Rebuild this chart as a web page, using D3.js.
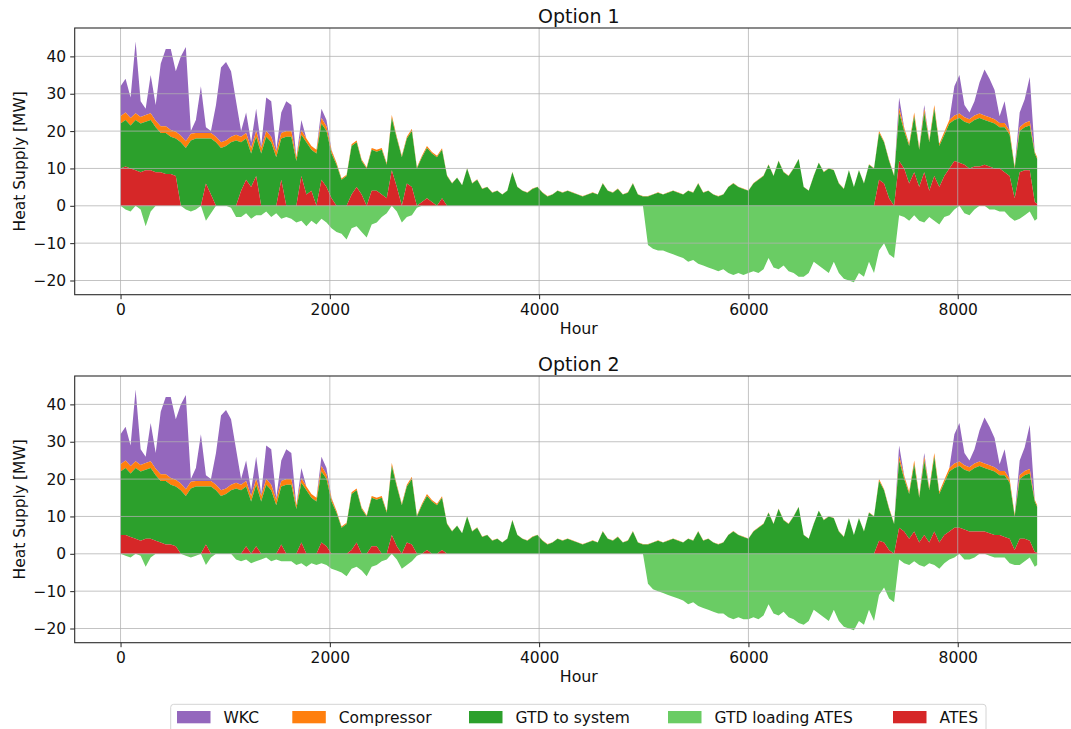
<!DOCTYPE html>
<html>
<head>
<meta charset="utf-8">
<script src="https://cdn.jsdelivr.net/npm/d3@7"></script>
<style>
  html, body { margin: 0; padding: 0; background: #fff; }
  svg { display: block; font-family: "DejaVu Sans", sans-serif; }
</style>
</head>
<body>
<svg id="chart" width="1071" height="729"></svg>
<script>
// ---------------- DATA (48-hour samples) ----------------
const hours = d3.range(0, 8760, 48).concat([8759]);

const seriesNames = ["WKC", "Compressor", "GTD to system", "GTD loading ATES", "ATES"];
const panelTitles = ["Option 1", "Option 2"];
const yTicks = [-20, -10, 0, 10, 20, 30, 40];
const xTicks = [0, 2000, 4000, 6000, 8000];

// shared by both options
const wkc = [
  8, 9, 5.5, 19.2, 4.2, 1.7, 10.2, 4.2, 16.7, 20.7, 21.7, 16.2,
  21.2, 25.2, 0.7, 3.5, 12.5, 1.5, 0.5, 8.5, 20, 21, 17.5, 9,
  1.5, 5.5, 1.5, 6, 0.5, 9, 9.5, 0.5, 5.5, 8, 7, 0,
  2.8, 0, 0, 0, 2.5, 1.8, 0.2, 0, 0,
  0,0,0,0,0,0,0,0,0,0,0,0,0,0,0,0,0,0,0,0,0,0,0,0,0,0,0,0,0,0,0,0,0,0,0,0,0,0,0,0,0,0,0,0,0,0,0,0,0,0,0,0,0,
  0,0,0,0,0,0,0,0,0,0,0,0,0,0,0,0,0,0,0,0,0,0,0,0,0,0,0,0,0,0,0,0,0,0,0,0,0,0,0,0,0,0,0,0,0,0,0,0,0,0,0,0,0,
  0, 0, 0, 0, 2.8, 0.2, 0, 0, 0, 1, 0, 0, 0, 0, 0, 7.8, 10.3, 3.3, 1.8, 3.8, 8.3, 12.3, 10.3, 7.8, 1.8, 5.8, 0, 0, 4, 6.3, 11.8, 0, 0
];

const compressor = [
  2, 2, 2, 1.8, 1.8, 1.8, 1.8, 1.8, 1.8, 1.8, 1.8, 1.8,
  1.8, 1.8, 1.8, 1.5, 1.5, 1.5, 1.5, 1.5, 1.5, 1.5, 1.5, 1.5,
  1.5, 1.5, 1.5, 1.5, 1.5, 1.5, 1.5, 1.5, 1.5, 1.5, 1.5, 1,
  1.2, 1, 1, 1, 1.5, 1.2, 0.8, 0.5, 0.3,
  0.3, 0.5, 0.5, 0.4, 0.3, 0.5, 0.5, 0.5, 0.4, 0.8,
  0.5, 0.4, 0.5, 0.6, 0.3, 0.4, 0.5, 0.4, 0.4, 0.4, 0.2,
  0.1,0.1,0.1,0.1,0.1,0.1,0.1,0.1,0.1,0.1,0.1,0.1,0.1,0.1,0.1,0.1,0.1,
  0.1,0.1,0.1,0.1,0.1,0.1,0.1,0.1,0.1,0.1,0.1,0.1,0.1,0.1,0.1,0.1,0.1,
  0.1,0.1,0.1,0.1,0.1,0.1,0.1,0.1,0.1,0.1,0.1,0.1,0.1,0.1,0.1,0.1,0.1,
  0.1,0.1,0.1,0.1,0.1,0.1,0.1,0.1,0.1,0.1,0.1,0.1,0.1,0.1,0.1,0.1,0.1,
  0.1,0.1,0.1,0.1,0.1,0.1,0.1,0.1,0.1,0.1,0.1,0.1,0.1,0.1,0.1,0.1,0.1,
  0.5, 0.3, 0.3, 0.2, 1.2, 0.8, 0.6, 1, 0.6, 1, 0.6, 1, 0.6, 0.8, 1,
  1.2, 1.2, 1.2, 1.2, 1.2, 1.2, 1.2, 1.2, 1.2, 1.2, 1.2, 1, 0.5, 1, 1.2, 1.2, 0.5, 0.5
];

// Option 1
const gtdSystemOpt1 = [
  12, 12.5, 11.5, 13.5, 13, 13, 13.5, 12, 10.5, 11, 10, 10,
  17, 15.5, 17.5, 18, 18, 12, 15, 17, 15.5, 16, 17, 17.5,
  13, 11, 9, 10.5, 14, 18.5, 17, 13, 11, 18.5, 18.5, 12,
  11, 14, 11, 14, 15, 15, 12, 11, 7,
  8, 13, 12, 9, 10, 11, 10.5, 12, 9, 14,
  13, 13, 12, 15, 10, 12, 13.5, 13, 13, 13, 8,
  6, 7.5, 5.5, 10, 6, 7, 4.5, 5, 3.5, 4, 3, 4, 9, 5, 4, 3.5, 4.5, 5,
  3.5, 2.5, 3, 4, 3.5, 4, 3.5, 3, 2.5, 3, 3.5, 3, 6, 4, 3.5, 4.5, 3, 3.5, 6, 3, 2.5,
  2.5, 3, 3.5, 3, 3.5, 4, 3.5, 3, 4, 3.5, 6, 3.5, 4, 3, 2.5, 3, 5, 6, 5, 4.5, 4,
  6, 7, 8, 11, 8, 12, 9, 8, 10, 12.5, 5, 4, 8, 11.5, 9, 10, 9.5, 6, 4.5, 9.5, 5, 9.5, 6, 11, 10,
  12.5, 11, 10, 8, 13, 10, 10, 15, 10, 16, 13, 18, 11, 11, 12, 11, 12, 11.5, 12, 12.5, 13, 12, 12, 12, 11, 12, 11, 8, 11, 11.5, 12, 13, 12
];
const atesOpt1 = [
  10, 10.5, 10, 9.5, 9, 9.5, 9.5, 9, 9, 8.5, 8.5, 8,
  0, 0, 0, 0, 0, 6, 3, 0, 0, 0, 0, 0,
  4, 7, 5, 8, 0, 0, 0, 0, 7, 0, 0, 0,
  8, 3, 4, 0, 7, 5, 2, 0, 0,
  0, 3, 5, 3, 0, 4, 4, 3, 2, 9.5,
  5, 0, 6, 5, 0, 1, 2, 1, 0, 2, 0,
  0,0,0,0,0,0,0,0,0,0,0,0,0,0,0,0,0,
  0,0,0,0,0,0,0,0,0,0,0,0,0,0,0,0,0,
  0,0,0,0,0,0,0,0,0,0,0,0,0,0,0,0,0,
  0,0,0,0,0,0,0,0,0,0,0,0,0,0,0,0,0,
  0,0,0,0,0,0,0,0,0,0,0,0,0,0,0,0,0,
  7, 6, 2, 0, 12, 10, 6, 9, 5, 9, 4, 8, 5, 8, 10, 12, 11.5, 11, 10, 10.5, 10.5, 11, 10.5, 10, 10, 9, 8, 2, 9, 9.5, 9.5, 1, 0.5
];
const gtdLoadingOpt1 = [
  0, -1, -1.5, 0, -1, -5.5, -1.5, 0, 0, 0, 0, 0,
  0, -1, -1.5, -1, 0, -4, -2, 0, 0, 0, -0.5, -3,
  -3, -2, -3.5, -2.5, -2.5, -1.5, -3, -2, -3.5, -3, -3.5, -4.5,
  -4, -5.5, -4, -5, -3.5, -4.5, -6, -7, -7.5,
  -9, -6, -5.5, -7, -8.5, -5, -4.5, -3, -2, 0,
  -1.5, -4.5, -3, -2.5, -0.5, 0, 0, 0, 0, 0, 0,
  0,0,0,0,0,0,0,0,0,0,0,0,0,0,0,0,0,0,0,0,0,0,0,0,0,0,0,0,0,0,0,0,0,0,0,0,0,0,0,
  -10.5, -11.5, -12, -12, -12.5, -13, -13.5, -14, -15, -14.5, -15.5, -16, -16.5, -17, -17.5, -17, -18, -18.5, -18, -18.5, -18,
  -17.5, -18, -17, -14, -16.5, -17, -16, -17.5, -18, -19, -19, -18, -15, -16, -17, -18, -15, -18, -19.5, -20, -20.5, -18, -19, -15, -18,
  -12, -10, -13, -14,
  -2.5, -3, -4, -2.5, -4, -4.5, -3, -4, -5, -3, -2.5, -1, 0, -2, -2.5, -1, 0, 0, -1, -1, -1.5, -1.5, -3, -4, -3.5, -2.5, -1.5, -4, -3.5
];

// Option 2
const gtdSystemOpt2 = [
  17, 18, 17, 19, 18.5, 18.5, 19, 17.5, 16.5, 17, 16, 16,
  17, 15.5, 17.5, 18, 18, 15.5, 18, 17, 15.5, 16, 17, 17.5,
  17, 16, 14, 16.5, 14, 18.5, 17, 13, 15.5, 18.5, 18.5, 12,
  16, 17, 15, 14, 19, 18, 14, 11, 7,
  8, 15, 14, 12, 10, 13, 12.5, 15, 11, 18.5,
  16, 13, 15, 17.5, 10, 13, 14.5, 14, 13, 14, 8,
  6, 7.5, 5.5, 10, 6, 7, 4.5, 5, 3.5, 4, 3, 4, 9, 5, 4, 3.5, 4.5, 5,
  3.5, 2.5, 3, 4, 3.5, 4, 3.5, 3, 2.5, 3, 3.5, 3, 6, 4, 3.5, 4.5, 3, 3.5, 6, 3, 2.5,
  2.5, 3, 3.5, 3, 3.5, 4, 3.5, 3, 4, 3.5, 6, 3.5, 4, 3, 2.5, 3, 5, 6, 5, 4.5, 4,
  6, 7, 8, 11, 8, 12, 9, 8, 10, 12.5, 5, 4, 8, 11.5, 9, 10, 9.5, 6, 4.5, 9.5, 5, 9.5, 6, 11, 10,
  16, 14, 11, 8, 18, 14, 12, 18, 12, 20, 14, 20, 13, 14, 16, 16, 16.5, 16, 16, 17, 17.5, 17, 17, 17, 16, 16.5, 15, 9, 16, 17, 18, 13.5, 12.2
];
const atesOpt2 = [
  5, 5, 4.5, 4, 3.5, 4, 4, 3.5, 3, 2.5, 2.5, 2,
  0, 0, 0, 0, 0, 2.5, 0, 0, 0, 0, 0, 0,
  0, 2, 0, 2, 0, 0, 0, 0, 2.5, 0, 0, 0,
  3, 0, 0, 0, 3, 2, 0, 0, 0,
  0, 1, 3, 0, 0, 2, 2, 0, 0, 5,
  2, 0, 3, 2.5, 0, 0, 1, 0, 0, 1, 0,
  0,0,0,0,0,0,0,0,0,0,0,0,0,0,0,0,0,
  0,0,0,0,0,0,0,0,0,0,0,0,0,0,0,0,0,
  0,0,0,0,0,0,0,0,0,0,0,0,0,0,0,0,0,
  0,0,0,0,0,0,0,0,0,0,0,0,0,0,0,0,0,
  0,0,0,0,0,0,0,0,0,0,0,0,0,0,0,0,0,
  3.5, 3, 1, 0, 7, 6, 4, 6, 3, 5, 3, 6, 3, 5, 6, 7, 7, 6.5, 6, 6, 6, 6, 5.5, 5, 5, 4.5, 4, 1, 4, 4, 3.5, 0.5, 0.3
];
const gtdLoadingOpt2 = [
  0, -0.5, -1, 0, -0.5, -3.5, -1, 0, 0, 0, 0, 0,
  0, -0.5, -1, -0.5, 0, -3, -1, 0, 0, 0, 0, -1.5,
  -2, -1.5, -2.5, -2, -1.5, -1, -2, -1.5, -2, -2, -2, -3,
  -2.5, -3.5, -2.5, -3, -2.5, -3, -4, -4.5, -5,
  -6, -4, -3.5, -4.5, -6, -3.5, -3, -2, -1.5, 0,
  -1.5, -4, -3, -2, -0.5, 0, 0, 0, 0, 0, 0,
  0,0,0,0,0,0,0,0,0,0,0,0,0,0,0,0,0,0,0,0,0,0,0,0,0,0,0,0,0,0,0,0,0,0,0,0,0,0,0,
  -8, -9.5, -10, -10.5, -11, -11.5, -12, -12.5, -13.5, -13, -14, -14.5, -15, -15.5, -16, -16, -17, -17.5, -17, -17.5, -17.5,
  -17, -17.5, -16.5, -13.5, -16, -16.5, -15.5, -17, -17.5, -18.5, -19, -18, -15, -16, -17, -18, -15, -18, -19.5, -20, -20.5, -18, -19, -15, -18,
  -11, -9, -12, -13,
  -1.5, -2.5, -3, -2, -3, -3.5, -2.5, -3, -4, -2.5, -1.5, -1, 0, -1.5, -1.5, -1, 0, 0, -0.5, -1, -1, -1, -2.5, -3, -3, -2, -1, -3.5, -3
];

// ---------------- STYLE ----------------
const colors = {
  "WKC": "#9467bd",
  "Compressor": "#ff7f0e",
  "GTD to system": "#2ca02c",
  "GTD loading ATES": "#6acc64",
  "ATES": "#d62728"
};

const options = [
  { title: panelTitles[0], ates: atesOpt1, gtd: gtdSystemOpt1, comp: compressor, wkc: wkc, load: gtdLoadingOpt1, top: 28, bottom: 294.7 },
  { title: panelTitles[1], ates: atesOpt2, gtd: gtdSystemOpt2, comp: compressor, wkc: wkc, load: gtdLoadingOpt2, top: 376, bottom: 642.7 }
];

const svg = d3.select("#chart");
svg.append("rect").attr("width", 1071).attr("height", 729).attr("fill", "#fff");

const axLeft = 74.7, axRight = 1083;
const x = d3.scaleLinear().domain([-438, 9197]).range([axLeft, axRight]);
const textColor = "#111";
const fontSize = 15.5;

options.forEach((opt, pi) => {
  const y = d3.scaleLinear().domain([-23.8, 47.6]).range([opt.bottom, opt.top]);
  const g = svg.append("g");
  const clipId = "clip" + pi;
  g.append("clipPath").attr("id", clipId).append("rect")
    .attr("x", axLeft).attr("y", opt.top).attr("width", axRight - axLeft).attr("height", opt.bottom - opt.top);

  const table = hours.map((h, i) => ({
    hour: h, ates: opt.ates[i], gtd: opt.gtd[i], comp: opt.comp[i], wkc: opt.wkc[i], load: opt.load[i]
  }));

  const keys = ["ates", "gtd", "comp", "wkc"];
  const keyColor = { ates: colors["ATES"], gtd: colors["GTD to system"], comp: colors["Compressor"], wkc: colors["WKC"] };
  const stacked = d3.stack().keys(keys)(table);

  const area = d3.area()
    .x(d => x(d.data.hour))
    .y0(d => y(d[0]))
    .y1(d => y(d[1]));

  const plot = g.append("g").attr("clip-path", `url(#${clipId})`);

  // negative series: GTD loading ATES
  plot.append("path")
    .datum(table)
    .attr("fill", colors["GTD loading ATES"])
    .attr("d", d3.area().x(d => x(d.hour)).y0(y(0)).y1(d => y(d.load)));

  // stacked positive series
  stacked.slice().reverse().forEach(layer => {
    plot.append("path")
      .datum(layer)
      .attr("fill", keyColor[layer.key])
      .attr("d", area);
  });

  // grid (drawn over the fills like matplotlib)
  const grid = g.append("g").attr("clip-path", `url(#${clipId})`);
  yTicks.forEach(t => {
    grid.append("line").attr("x1", axLeft).attr("x2", axRight)
      .attr("y1", y(t)).attr("y2", y(t))
      .attr("stroke", "#b0b0b0").attr("stroke-width", 0.9).attr("stroke-opacity", 0.85);
  });
  xTicks.forEach(t => {
    grid.append("line").attr("x1", x(t)).attr("x2", x(t))
      .attr("y1", opt.top).attr("y2", opt.bottom)
      .attr("stroke", "#b0b0b0").attr("stroke-width", 0.9).attr("stroke-opacity", 0.85);
  });

  // axes
  const yAxis = d3.axisLeft(y).tickValues(yTicks).tickSize(4.5).tickPadding(4)
    .tickFormat(d => d < 0 ? "\u2212" + Math.abs(d) : String(d));
  const ya = g.append("g").attr("transform", `translate(${axLeft},0)`).call(yAxis);
  const xAxis = d3.axisBottom(x).tickValues(xTicks).tickSize(4.5).tickPadding(5).tickFormat(d3.format("d"));
  const xa = g.append("g").attr("transform", `translate(0,${opt.bottom})`).call(xAxis);
  [ya, xa].forEach(a => {
    a.select(".domain").remove();
    a.selectAll(".tick line").attr("stroke", "#222").attr("stroke-width", 1);
    a.selectAll(".tick text").attr("fill", textColor).attr("font-size", fontSize)
      .attr("font-family", "DejaVu Sans");
  });

  // frame (right edge lies beyond the canvas)
  g.append("rect").attr("x", axLeft).attr("y", opt.top)
    .attr("width", axRight - axLeft).attr("height", opt.bottom - opt.top)
    .attr("fill", "none").attr("stroke", "#2b2b2b").attr("stroke-width", 1.1);

  // titles and labels
  g.append("text").attr("x", (axLeft + axRight) / 2).attr("y", opt.top - 4.7)
    .attr("text-anchor", "middle").attr("font-size", 19).attr("fill", textColor).text(opt.title);
  g.append("text").attr("x", (axLeft + axRight) / 2).attr("y", opt.bottom + 39.6)
    .attr("text-anchor", "middle").attr("font-size", 15.8).attr("fill", textColor).text("Hour");
  g.append("text")
    .attr("transform", `translate(24.5,${(opt.top + opt.bottom) / 2}) rotate(-90)`)
    .attr("text-anchor", "middle").attr("font-size", 15.5).attr("fill", textColor).text("Heat Supply [MW]");
});

// ---------------- LEGEND ----------------
const legend = svg.append("g");
legend.append("rect").attr("x", 170.7).attr("y", 704.3).attr("width", 815.3).attr("height", 40)
  .attr("rx", 3).attr("fill", "#fff").attr("stroke", "#d4d4d4").attr("stroke-width", 1);
const legendX = [177, 292.3, 469, 668, 893];
seriesNames.forEach((name, i) => {
  legend.append("rect").attr("x", legendX[i]).attr("y", 711).attr("width", 33.5).attr("height", 12.3)
    .attr("fill", colors[name]);
  legend.append("text").attr("x", legendX[i] + 46.5).attr("y", 723)
    .attr("font-size", 15.5).attr("fill", textColor).text(name);
});
</script>
</body>
</html>
